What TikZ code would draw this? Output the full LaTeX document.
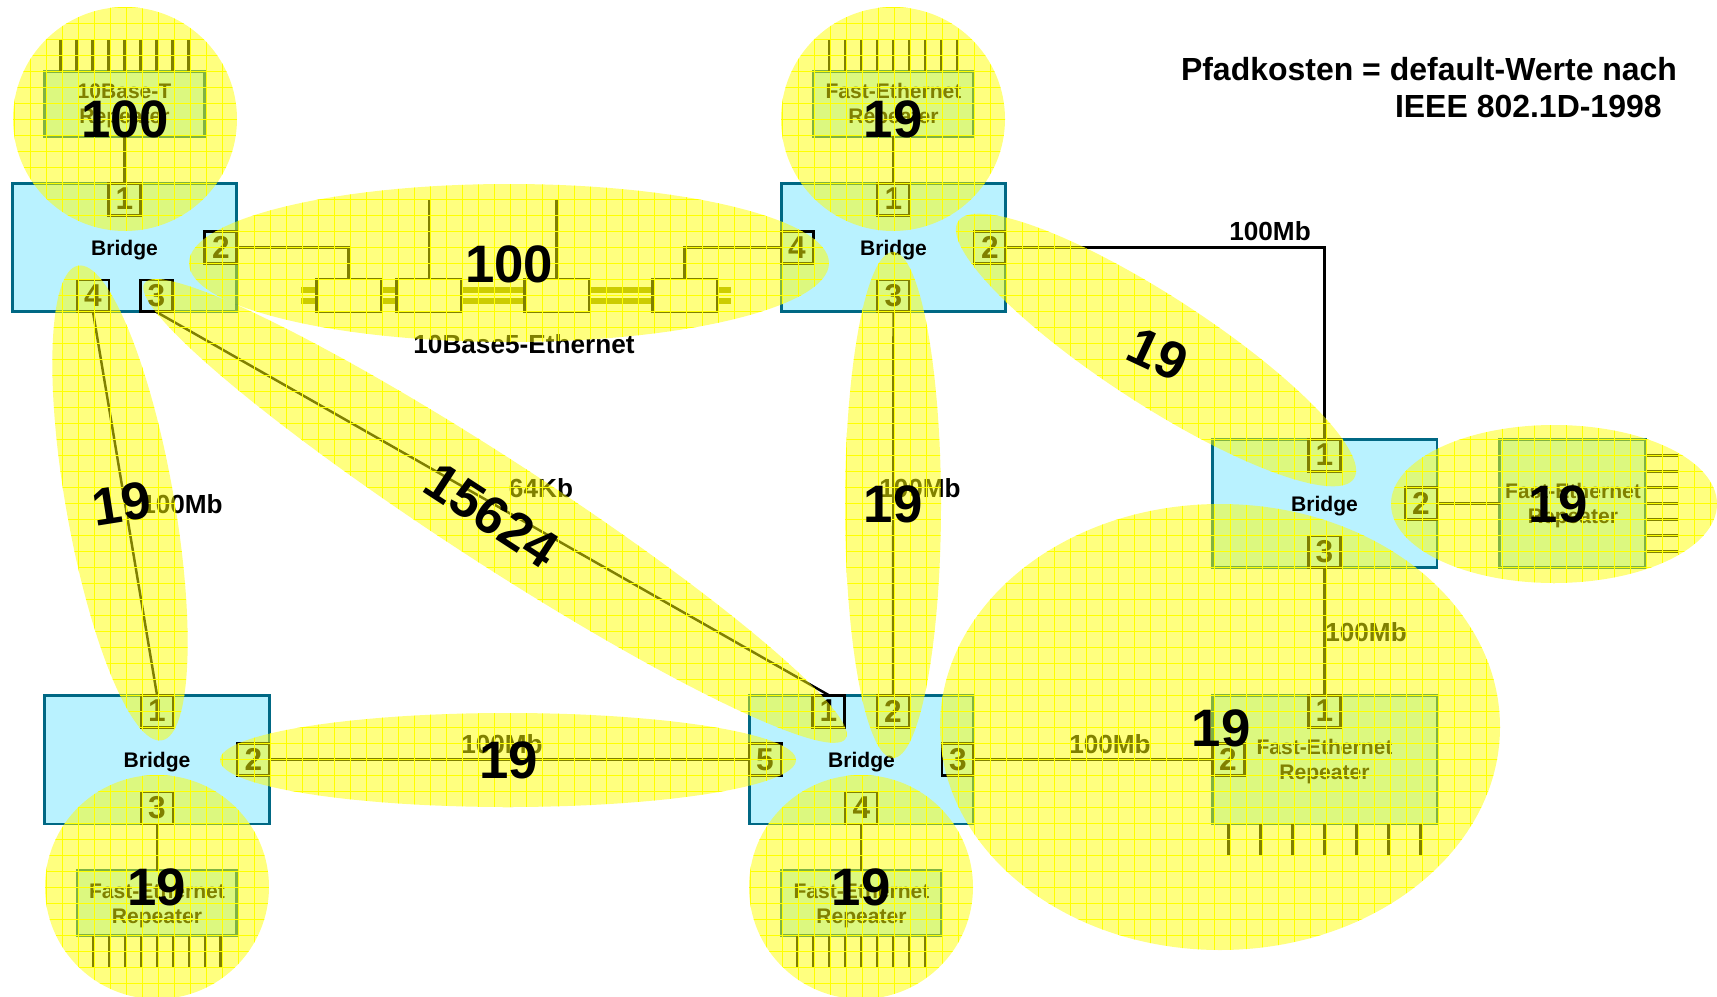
\documentclass[tikz,border=0pt]{standalone}
\usepackage{fontspec}
\setmainfont{Liberation Sans}
\usepackage{xcolor}
\usepackage{tikz}
\usetikzlibrary{positioning}
\definecolor{bridgefill}{RGB}{185,242,255}
\definecolor{bridgeline}{RGB}{0,104,132}
\definecolor{cablecol}{RGB}{153,153,0}
\definecolor{costcol}{RGB}{255,255,0}
\newcommand{\fsz}[2]{\bfseries\fontsize{#1}{#2}\selectfont}
% all cost regions as one path, so that overlaps do not get darker
\newcommand{\costpath}{
(125,119) circle [radius=112]
(893,119) circle [radius=112]
(157,887) circle [radius=112]
(861,887) circle [radius=112]
(509,263) ellipse [x radius=320, y radius=79]
(120,503) ellipse [x radius=241, y radius=54, rotate=-80]
(495,511) ellipse [x radius=418, y radius=52, rotate=-33]
(893,505) ellipse [x radius=48, y radius=253]
(508,760) ellipse [x radius=288, y radius=47]
(1156,350) ellipse [x radius=236, y radius=54, rotate=-33]
(1554,504) ellipse [x radius=163, y radius=79]
(1220,727) ellipse [x radius=280, y radius=223]
}
\begin{document}
\begin{tikzpicture}[
x=0.02cm, y=-0.02cm,
node distance=0.94cm,
every node/.style={outer sep=0pt, inner sep=0pt},
bridge/.style={draw=bridgeline, line width=1.7pt, fill=bridgefill, minimum width=4.5cm, minimum height=2.58cm, align=center, text depth=-1.3pt, font=\fsz{12}{14}},
rep/.style={bridge, minimum width=3.2cm, minimum height=1.3cm},
port/.style={draw=black, line width=1.7pt, minimum size=0.64cm, font=\fsz{18}{21}},
trans/.style={draw=black, line width=1.7pt, fill=white, minimum width=1.3cm, minimum height=0.66cm},
link/.style={draw=black, line width=1.4pt},
pin/.style={draw=black, line width=1.7pt},
cable/.style={draw=cablecol, line width=3pt},
lbl/.style={font=\fsz{14.9}{18}},
cost/.style={font=\fsz{30}{36}},
headline/.style={font=\fsz{18.2}{22}, anchor=west},
costfill/.style={fill=costcol, opacity=0.5},
gridline/.style={draw=costcol, line width=0.5pt}
]
\useasboundingbox (0,0) rectangle (1717,997);

% bridges
\node[bridge] (brA) at (124.5,247.5) {Bridge};
\node[bridge] (brB) at (893.5,247.5) {Bridge};
\node[bridge] (brC) at (1324.5,503.5) {Bridge};
\node[bridge] (brD) at (157,759.5) {Bridge};
\node[bridge] (brE) at (861.5,759.5) {Bridge};
\node[bridge] (repF) at (1324.5,759.5) {Fast-Ethernet\\Repeater};

% ports
\node[port, below=0pt of brA.north] (a1) {1};
\node[port, left=0pt of brA.east] (a2) {2};
\node[port, above=0pt of brA.south, xshift=0.64cm] (a3) {3};
\node[port, above=0pt of brA.south, xshift=-0.63cm] (a4) {4};
\node[port, below=0pt of brB.north] (b1) {1};
\node[port, left=0pt of brB.east] (b2) {2};
\node[port, above=0pt of brB.south] (b3) {3};
\node[port, right=0pt of brB.west] (b4) {4};
\node[port, below=0pt of brC.north] (c1) {1};
\node[port, left=0pt of brC.east] (c2) {2};
\node[port, above=0pt of brC.south] (c3) {3};
\node[port, below=0pt of brD.north] (d1) {1};
\node[port, left=0pt of brD.east] (d2) {2};
\node[port, above=0pt of brD.south] (d3) {3};
\node[port, below=0pt of brE.north, xshift=-0.66cm] (e1) {1};
\node[port, below=0pt of brE.north, xshift=0.63cm] (e2) {2};
\node[port, left=0pt of brE.east] (e3) {3};
\node[port, above=0pt of brE.south] (e4) {4};
\node[port, right=0pt of brE.west] (e5) {5};
\node[port, below=0pt of repF.north] (f1) {1};
\node[port, right=0pt of repF.west] (f2) {2};

% small repeaters
\node[rep, above=of a1] (repA) {10Base-T\\Repeater};
\node[rep, above=of b1] (repB) {Fast-Ethernet\\Repeater};
\node[rep, below=of d3] (repD) {Fast-Ethernet\\Repeater};
\node[rep, below=of e4] (repE) {Fast-Ethernet\\Repeater};
\node[rep, right=1.26cm of c2, minimum width=2.92cm, minimum height=2.58cm] (repC) {Fast-Ethernet\\Repeater};

% pins
\foreach \i in {-4,...,4} {
\draw[pin] ([xshift=\i*0.32cm]repA.north) -- ++(0,-32);
\draw[pin] ([xshift=\i*0.32cm]repB.north) -- ++(0,-32);
\draw[pin] ([xshift=\i*0.32cm]repD.south) -- ++(0,32);
\draw[pin] ([xshift=\i*0.32cm]repE.south) -- ++(0,32);
}
\foreach \i in {-3,...,3} {
\draw[pin] ([yshift=\i*0.32cm]repC.east) -- ++(32,0);
\draw[pin] ([xshift=\i*0.64cm]repF.south) -- ++(0,32);
}

% 10Base5 cable
\coordinate (cabW) at (301,295.5);
\coordinate (cabE) at (731,295.5);
\draw[cable] ([yshift=0.11cm]cabW) -- ([yshift=0.11cm]cabE);
\draw[cable] ([yshift=-0.11cm]cabW) -- ([yshift=-0.11cm]cabE);
\node[trans] (t1) at (348.5,295.5) {};
\node[trans] (t2) at (429,295.5) {};
\node[trans] (t3) at (556.5,295.5) {};
\node[trans] (t4) at (684.5,295.5) {};
\coordinate (t2top) at (429,200);
\coordinate (t3top) at (556.5,200);

% links
\draw[link] (a1.north) -- (repA.south);
\draw[link] (b1.north) -- (repB.south);
\draw[link] (d3.south) -- (repD.north);
\draw[link] (e4.south) -- (repE.north);
\draw[link] (c2.east) -- (repC.west);
\draw[link] (a2.east) -| (t1.north);
\draw[link] (t2.north) -- (t2top);
\draw[link] (t3.north) -- (t3top);
\draw[link] (b4.west) -| (t4.north);
\draw[link] (b2.east) -| (c1.north);
\draw[link] (b3.south) -- (e2.north);
\draw[link] (c3.south) -- (f1.north);
\draw[link] (e3.east) -- (f2.west);
\draw[link] (d2.east) -- (e5.west);
\draw[link] (a4.south) -- (d1.north);
\draw[link] (a3.south) -- (e1.north);

% texts under the regions
\node[lbl] (cabname) at (524,344) {10Base5-Ethernet};
\node[lbl] (ratebc) at (1270,231) {100Mb};
\node[lbl] (ratebe) at (920,488) {100Mb};
\node[lbl] (ratecf) at (1366,632) {100Mb};
\node[lbl] (rateef) at (1110,744) {100Mb};
\node[lbl] (ratede) at (502,744) {100Mb};
\node[lbl] (rate64) at (541,488) {64Kb};
\node[lbl] (rated) at (182,504) {100Mb};

% cost regions
\fill[costfill] \costpath;
\begin{scope}
\clip \costpath;
\foreach \i in {0,...,107} {
\draw[gridline] (\i*16-2,0) -- (\i*16-2,997);
}
\foreach \i in {0,...,62} {
\draw[gridline] (0,\i*16+7) -- (1717,\i*16+7);
}
\end{scope}

% costs
\node[cost] (c100a) at (125,119) {100};
\node[cost] (c19b) at (893,119) {19};
\node[cost] (c100e) at (509,264) {100};
\node[cost, rotate=-25] (c19bc) at (1158,354) {19};
\node[cost, rotate=9] (c19ad) at (122,504) {19};
\node[cost, rotate=-33] (c15624) at (492,515) {15624};
\node[cost] (c19be) at (893,504) {19};
\node[cost] (c19c) at (1558,504) {19};
\node[cost] (c19f) at (1221,728) {19};
\node[cost] (c19de) at (509,760) {19};
\node[cost] (c19d) at (157,887) {19};
\node[cost] (c19e) at (861,887) {19};

% heading
\node[headline] (head1) at (1181,69) {Pfadkosten = default-Werte nach};
\node[headline] (head2) at (1395,106) {IEEE 802.1D-1998};
\end{tikzpicture}
\end{document}
